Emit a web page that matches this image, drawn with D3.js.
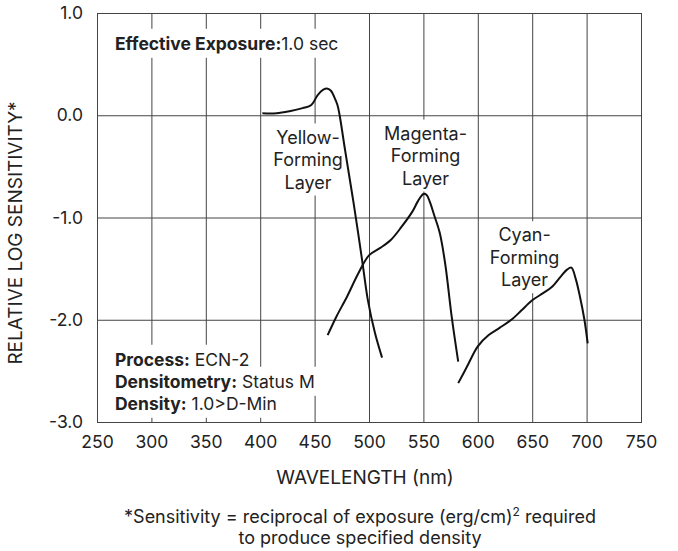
<!DOCTYPE html>
<html>
<head>
<meta charset="utf-8">
<script src="https://cdn.jsdelivr.net/npm/d3@7"></script>
<style>
  body { margin: 0; background: #fff; }
  svg text { font-family: Inter, "Noto Sans", sans-serif; fill: #222; }
</style>
</head>
<body>
<script>
// spectral sensitivity curves
// wavelength in nm, value in relative log sensitivity
var yellowWl  = [402, 415, 427, 439, 447, 453, 458, 462, 465, 468, 471, 473, 478, 483, 486, 490, 494.5, 499, 505.5, 512];
var yellowVal = [0.02, 0.02, 0.04, 0.07, 0.1, 0.2, 0.25, 0.26, 0.24, 0.18, 0.1, 0.0, -0.34, -0.67, -0.87, -1.15, -1.48, -1.81, -2.13, -2.37];

var magentaWl  = [462, 470, 480, 490, 500, 510, 520, 530, 540, 545, 550, 553, 556, 560, 565, 570, 576, 582];
var magentaVal = [-2.15, -1.97, -1.77, -1.55, -1.37, -1.3, -1.22, -1.09, -0.94, -0.84, -0.77, -0.78, -0.85, -0.98, -1.15, -1.45, -1.97, -2.41];

var cyanWl  = [582, 590, 600, 610, 620, 632, 640, 650, 660, 668, 676, 682, 686, 690, 694, 698, 701];
var cyanVal = [-2.62, -2.46, -2.26, -2.15, -2.08, -1.99, -1.91, -1.81, -1.74, -1.68, -1.58, -1.51, -1.49, -1.6, -1.78, -2.0, -2.23];

var xTicks = [250, 300, 350, 400, 450, 500, 550, 600, 650, 700, 750];
var yTicks = [-3, -2, -1, 0, 1];
var yTickLabels = ['-3.0', '-2.0', '-1.0', '0.0', '1.0'];

// curve labels: text lines + anchor (wavelength, value of first line)
var layerLabels = [
    { lines: ['Yellow-', 'Forming', 'Layer'], wl: 444, val: -0.215 },
    { lines: ['Magenta-', 'Forming', 'Layer'], wl: 552, val: -0.176 },
    { lines: ['Cyan-', 'Forming', 'Layer'], wl: 643, val: -1.17 }
];

var infoTop = [['Effective Exposure:', '1.0 sec']];
var infoBottom = [['Process:', ' ECN-2'], ['Densitometry:', ' Status M'], ['Density:', ' 1.0>D-Min']];

var width = 678, height = 551;
var margin = { top: 13, right: 37, bottom: 129, left: 97 };
var w = width - margin.left - margin.right,
    h = height - margin.top - margin.bottom;

var svg = d3.select('body').append('svg')
    .attr('width', width)
    .attr('height', height);

var g = svg.append('g')
    .attr('transform', 'translate(' + margin.left + ',' + margin.top + ')');

var x = d3.scaleLinear().domain([250, 750]).range([0, w]);
var y = d3.scaleLinear().domain([-3, 1]).range([h, 0]);

// grid via axes
var xAxis = g.append('g')
    .attr('transform', 'translate(0,' + h + ')')
    .call(d3.axisBottom(x).tickValues(xTicks).tickSize(-h).tickPadding(14));
var yAxis = g.append('g')
    .call(d3.axisLeft(y).tickValues(yTicks).tickSize(-w).tickPadding(14)
        .tickFormat(function (d, i) { return yTickLabels[i]; }));

[xAxis, yAxis].forEach(function (a) {
    a.select('.domain').remove();
    a.selectAll('line').attr('stroke', '#444');
    a.selectAll('text')
        .style('font-size', '17.5px')
        .attr('fill', '#222');
});

g.append('rect')
    .attr('x', 0.5).attr('y', 0.5)
    .attr('width', w).attr('height', h)
    .attr('fill', 'none')
    .attr('stroke', '#444');

var boxLayer = g.append('g');
var curveLayer = g.append('g');
var textLayer = g.append('g');

// info text blocks (bold key + plain value), each line on a white box
function infoBlock(rows, wl, val, lh) {
    rows.forEach(function (r, i) {
        var t = textLayer.append('text')
            .attr('x', x(wl))
            .attr('y', y(val) + i * lh)
            .attr('dy', '0.35em')
            .style('font-size', '17.5px');
        t.append('tspan').style('font-weight', 'bold').text(r[0]);
        t.append('tspan').text(r[1]);
        var b = t.node().getBBox();
        boxLayer.append('rect')
            .attr('x', b.x - 5).attr('y', b.y - 4)
            .attr('width', b.width + 8).attr('height', b.height + 8)
            .attr('fill', '#fff');
    });
}
infoBlock(infoTop, 266.5, 0.70, 22);
infoBlock(infoBottom, 266.5, -2.39, 22);

// layer labels with white box behind
layerLabels.forEach(function (l) {
    var t = textLayer.append('text')
        .attr('text-anchor', 'middle')
        .style('font-size', '18px');
    l.lines.forEach(function (s, i) {
        t.append('tspan')
            .attr('x', x(l.wl))
            .attr('y', y(l.val) + i * 22.5)
            .attr('dy', '0.35em')
            .text(s);
    });
    var b = t.node().getBBox();
    boxLayer.append('rect')
        .attr('x', b.x - 3).attr('y', b.y - 3)
        .attr('width', b.width + 6).attr('height', b.height + 6)
        .attr('fill', '#fff');
});

var line = d3.line()
    .x(function (d) { return x(d[0]); })
    .y(function (d) { return y(d[1]); })
    .curve(d3.curveCatmullRom.alpha(0.5));

[[yellowWl, yellowVal], [magentaWl, magentaVal], [cyanWl, cyanVal]].forEach(function (s) {
    curveLayer.append('path')
        .datum(d3.zip(s[0], s[1]))
        .attr('d', line)
        .attr('fill', 'none')
        .attr('stroke', '#111')
        .attr('stroke-width', 2);
});

// axis titles
svg.append('text')
    .attr('transform', 'translate(15,233) rotate(-90)')
    .attr('text-anchor', 'middle')
    .attr('dy', '0.35em')
    .style('font-size', '19px')
    .text('RELATIVE LOG SENSITIVITY*');

svg.append('text')
    .attr('x', margin.left + w / 2 - 4)
    .attr('y', 477)
    .attr('text-anchor', 'middle')
    .attr('dy', '0.35em')
    .style('font-size', '19px')
    .text('WAVELENGTH (nm)');

// footnote
var fn = svg.append('text')
    .attr('text-anchor', 'middle')
    .style('font-size', '18px');
var l1 = fn.append('tspan').attr('x', 360).attr('y', 523);
l1.append('tspan').text('*Sensitivity = reciprocal of exposure (erg/cm)');
l1.append('tspan').attr('dy', -7).style('font-size', '12px').text('2');
l1.append('tspan').attr('dy', 7).text(' required');
fn.append('tspan').attr('x', 360).attr('y', 544).text('to produce specified density');
</script>
</body>
</html>
